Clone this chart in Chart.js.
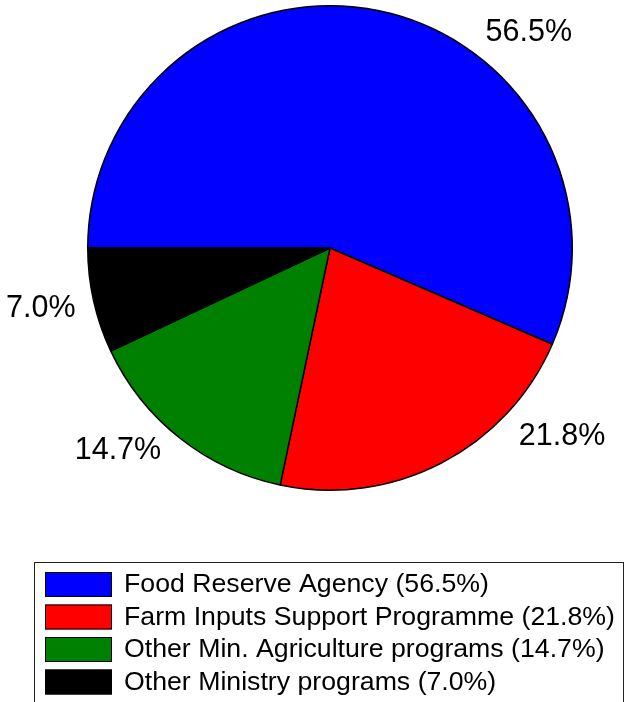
<!DOCTYPE html>
<html lang="en">
<head>
    <meta charset="UTF-8" />
    <title>Spending shares</title>
    <script src="https://cdn.jsdelivr.net/npm/chart.js"></script>
    <style>
        body { margin: 0; background: #fff; }
        canvas { display: block; }
    </style>
</head>
<body>
    <canvas id="pie" width="626" height="702"></canvas>

    <script>
        // data
        const categories = ['Food Reserve Agency', 'Farm Inputs Support Programme', 'Other Min. Agriculture programs', 'Other Ministry programs'];
        const shares = [56.5, 21.8, 14.7, 7.0];
        const colors = ['#0000ff', '#ff0000', '#008000', '#000000'];

        const FONT = '"Liberation Sans", Arial, sans-serif';

        // percent labels outside the pie (angle nudge in degrees per slice)
        const outerLabels = {
            id: 'outerLabels',
            afterDatasetsDraw(chart, args, opts) {
                const ctx = chart.ctx;
                const arcs = chart.getDatasetMeta(0).data;
                ctx.save();
                ctx.font = '30.5px ' + FONT;
                ctx.fillStyle = '#000';
                ctx.textAlign = 'center';
                ctx.textBaseline = 'middle';
                arcs.forEach((arc, i) => {
                    const p = arc.getProps(['x', 'y', 'startAngle', 'endAngle', 'outerRadius'], true);
                    const a = (p.startAngle + p.endAngle) / 2 + opts.shift[i] * Math.PI / 180;
                    const d = p.outerRadius * opts.distance[i];
                    ctx.fillText(shares[i].toFixed(1) + '%', p.x + Math.cos(a) * d, p.y + Math.sin(a) * d);
                });
                ctx.restore();
            }
        };

        // boxed legend under the pie
        const boxLegend = {
            id: 'boxLegend',
            afterDraw(chart, args, opts) {
                const ctx = chart.ctx;
                ctx.save();
                ctx.strokeStyle = '#222';
                ctx.lineWidth = 1;
                ctx.strokeRect(opts.left + 0.5, opts.top + 0.5, opts.width, 200);
                ctx.font = opts.fontSize + 'px ' + FONT;
                ctx.textBaseline = 'middle';
                categories.forEach((c, i) => {
                    const y = opts.top + 10 + i * opts.rowHeight;
                    ctx.fillStyle = colors[i];
                    ctx.fillRect(opts.left + 11, y, 67, 25);
                    ctx.strokeStyle = '#000';
                    ctx.strokeRect(opts.left + 11.5, y + 0.5, 66, 24);
                    ctx.fillStyle = '#000';
                    ctx.fillText(c + ' (' + shares[i].toFixed(1) + '%)', opts.left + 90, y + 13);
                });
                ctx.restore();
            }
        };

        new Chart(document.getElementById('pie'), {
            type: 'pie',
            data: {
                labels: categories,
                datasets: [{
                    data: shares,
                    backgroundColor: colors,
                    borderColor: '#000',
                    borderWidth: 1.5
                }]
            },
            options: {
                responsive: false,
                animation: false,
                rotation: -90,
                layout: { padding: { left: 87, top: 5, right: 53, bottom: 211 } },
                plugins: {
                    legend: { display: false },
                    tooltip: { enabled: false },
                    outerLabels: { distance: [1.21, 1.235, 1.21, 1.22], shift: [31, -23.5, 8, 0.7] },
                    boxLegend: { left: 34, top: 562, width: 589, rowHeight: 32.5, fontSize: 26.7 }
                }
            },
            plugins: [outerLabels, boxLegend]
        });
    </script>
</body>
</html>
